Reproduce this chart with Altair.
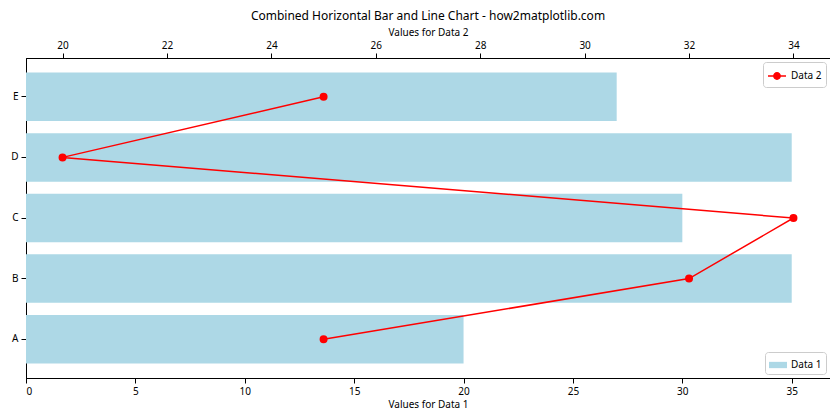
import altair as alt
import pandas as pd

categories = ["A", "B", "C", "D", "E"]
data1 = [20, 35, 30, 35, 27]
data2 = [25, 32, 34, 20, 25]

df = pd.DataFrame({
    "cat": categories,
    "v1": data1,
    "v2": data2,
    "idx": list(range(len(categories))),
    "s1": ["Data 1"] * 5,
    "s2": ["Data 2"] * 5,
})

FONT = "Noto Sans"
yenc = alt.Y("cat:N", sort=categories[::-1],
             scale=alt.Scale(paddingInner=0.2, paddingOuter=0.24),
             axis=alt.Axis(title=None, labelAngle=0, ticks=True))

bars = alt.Chart(df).mark_bar(color="#add8e6").encode(
    x=alt.X("v1:Q", scale=alt.Scale(domain=[0, 36.75], nice=False, zero=False),
            axis=alt.Axis(orient="bottom", values=[0, 5, 10, 15, 20, 25, 30, 35],
                          title="Values for Data 1", grid=False)),
    y=yenc,
    fill=alt.Fill("s1:N", scale=alt.Scale(domain=["Data 1"], range=["#add8e6"]),
                  legend=alt.Legend(title=None, orient="bottom-right",
                                    symbolType="M-1,-0.35L1,-0.35L1,0.35L-1,0.35Z",
                                    symbolSize=324, symbolStrokeWidth=0)),
)

line = alt.Chart(df).mark_line(
    color="red", strokeWidth=1.5,
    point=alt.OverlayMarkDef(filled=True, fill="red", color="red", size=36),
).encode(
    x=alt.X("v2:Q", scale=alt.Scale(domain=[19.3, 34.7], nice=False, zero=False),
            axis=alt.Axis(orient="top", values=[20, 22, 24, 26, 28, 30, 32, 34],
                          title="Values for Data 2", grid=False)),
    y=yenc,
    order="idx:O",
    stroke=alt.Stroke("s2:N", scale=alt.Scale(domain=["Data 2"], range=["red"]),
                      legend=alt.Legend(title=None, orient="top-right",
                                        symbolType="M-1,0L1,0M-0.35,0A0.35,0.35 0 1,0 0.35,0A0.35,0.35 0 1,0 -0.35,0Z",
                                        symbolSize=324, symbolFillColor="red",
                                        symbolStrokeWidth=1.5)),
)

chart = alt.layer(bars, line).resolve_scale(
    x="independent", fill="independent", stroke="independent"
).properties(
    width=804, height=320,
    title=alt.TitleParams("Combined Horizontal Bar and Line Chart - how2matplotlib.com",
                          fontSize=12, fontWeight="normal", font=FONT, color="black", offset=4),
    padding={"left": 2, "top": 2, "right": 0, "bottom": 0},
).configure_view(
    stroke="black", strokeWidth=1
).configure_axis(
    labelFont=FONT, titleFont=FONT, labelFontSize=10, titleFontSize=10,
    titleFontWeight="normal", labelColor="black", titleColor="black",
    domainColor="black", tickColor="black", tickSize=5, labelPadding=3, titlePadding=3,
).configure_legend(
    labelFont=FONT, labelFontSize=10, labelColor="black",
    strokeColor="#cccccc", fillColor="white", cornerRadius=3, padding=4, offset=4,
)

chart.save("out.html", embed_options={"renderer": "svg", "actions": False})
